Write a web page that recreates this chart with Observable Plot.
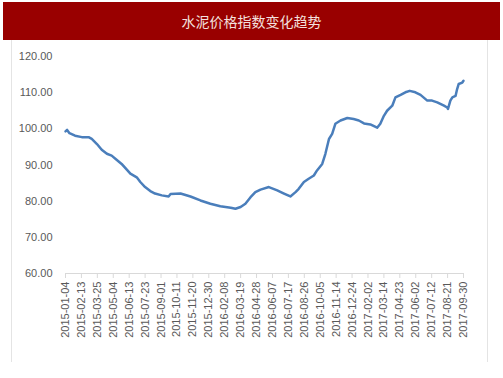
<!DOCTYPE html>
<html>
<head>
<meta charset="utf-8">
<script src="https://cdn.jsdelivr.net/npm/d3@7"></script>
<script src="https://cdn.jsdelivr.net/npm/@observablehq/plot@0.6"></script>
<style>
  html, body { margin: 0; padding: 0; background: #fff; }
  #wrap { position: relative; width: 503px; height: 378px; overflow: hidden; font-family: "Noto Sans CJK SC", "Liberation Sans", sans-serif; }
  #banner { position: absolute; left: 3px; top: 2px; width: 497px; height: 38px; background: #990000; color: #F4E0DF; font-size: 14px; line-height: 38px; text-align: center; font-family: "Noto Sans CJK SC", sans-serif; }
  #box { position: absolute; left: 11px; top: 40px; width: 475px; height: 322px; border-left: 1px solid #E4E4E4; border-right: 1px solid #E4E4E4; }
  #chart { position: absolute; left: 0; top: 40px; }
</style>
</head>
<body>
<div id="wrap">
  <div id="box"></div>
  <div id="banner">水泥价格指数变化趋势</div>
  <div id="chart"></div>
</div>
<script>
const title = "水泥价格指数变化趋势";

const dates = [
  "2015-01-04","2015-01-08","2015-01-14","2015-01-28","2015-02-14","2015-03-03","2015-03-11","2015-03-24",
  "2015-04-05","2015-04-18","2015-04-30","2015-05-13","2015-05-25","2015-06-07","2015-06-16","2015-07-02",
  "2015-07-11","2015-07-23","2015-08-05","2015-08-17","2015-09-03","2015-09-20","2015-09-25","2015-10-20",
  "2015-11-14","2015-12-09","2016-01-03","2016-01-28","2016-02-23","2016-03-06","2016-03-19","2016-03-31",
  "2016-04-13","2016-04-25","2016-05-08","2016-05-29","2016-06-19","2016-07-06","2016-07-22","2016-08-04",
  "2016-08-12","2016-08-25","2016-09-06","2016-09-19","2016-09-27","2016-10-10","2016-10-18","2016-10-27",
  "2016-11-04","2016-11-12","2016-11-25","2016-12-12","2016-12-28","2017-01-10","2017-01-23","2017-02-08",
  "2017-02-25","2017-03-05","2017-03-14","2017-03-22","2017-04-04","2017-04-12","2017-04-25","2017-05-07",
  "2017-05-18","2017-06-01","2017-06-14","2017-07-01","2017-07-13","2017-07-26","2017-08-12","2017-08-20",
  "2017-08-22","2017-08-28","2017-09-02","2017-09-10","2017-09-14","2017-09-18","2017-09-27","2017-09-30"
];
const values = [
  99.3, 99.7, 98.8, 98.1, 97.7, 97.7, 97.2, 95.8,
  94.2, 93.1, 92.6, 91.4, 90.3, 88.7, 87.6, 86.6,
  85.3, 83.9, 82.8, 82.1, 81.6, 81.3, 82.0, 82.1,
  81.3, 80.2, 79.3, 78.6, 78.2, 77.9, 78.4, 79.3,
  81.1, 82.5, 83.2, 83.9, 83.0, 82.1, 81.3, 82.5,
  83.4, 85.3, 86.2, 87.1, 88.5, 90.3, 93.1, 97.2,
  98.6, 101.4, 102.3, 103.0, 102.7, 102.3, 101.5, 101.2,
  100.3, 101.4, 103.6, 105.0, 106.4, 108.7, 109.4, 110.1,
  110.5, 110.1, 109.4, 107.8, 107.8, 107.3, 106.4, 105.9,
  105.5, 107.8, 108.7, 109.1, 111.0, 112.4, 112.8, 113.3
];
const xTickLabels = [
  "2015-01-04","2015-02-13","2015-03-25","2015-05-04","2015-06-13","2015-07-23","2015-09-01",
  "2015-10-11","2015-11-20","2015-12-30","2016-02-08","2016-03-19","2016-04-28","2016-06-07",
  "2016-07-17","2016-08-26","2016-10-05","2016-11-14","2016-12-24","2017-02-02","2017-03-14",
  "2017-04-23","2017-06-02","2017-07-12","2017-08-21","2017-09-30"
];
const yTicks = [60, 70, 80, 90, 100, 110, 120];

const parse = d3.utcParse("%Y-%m-%d");
const data = dates.map((d, i) => ({date: parse(d), value: values[i]}));
const xTicks = xTickLabels.map(parse);

const chart = Plot.plot({
  width: 503,
  height: 338,
  marginTop: 16,
  marginBottom: 105,
  marginLeft: 65,
  marginRight: 40,
  style: {fontFamily: "Liberation Sans, Arial, sans-serif", fontSize: "11px", color: "#595959", background: "transparent"},
  x: {type: "utc", domain: [xTicks[0], xTicks[xTicks.length - 1]]},
  y: {domain: [60, 120]},
  marks: [
    Plot.ruleY([60], {stroke: "#D9D9D9", strokeWidth: 1}),
    Plot.axisX({ticks: xTicks, tickFormat: d3.utcFormat("%Y-%m-%d"), tickRotate: -90, tickSize: 5, tickPadding: 3, stroke: "#D9D9D9", strokeOpacity: 1, fill: "#595959", fontSize: 11, label: null}),
    Plot.axisY({ticks: yTicks, tickFormat: d3.format(".2f"), tickSize: 0, tickPadding: 13, fill: "#595959", fontSize: 11, label: null}),
    Plot.line(data, {x: "date", y: "value", stroke: "#4A7EBB", strokeWidth: 2.5})
  ]
});
document.getElementById("chart").appendChild(chart);
</script>
</body>
</html>
